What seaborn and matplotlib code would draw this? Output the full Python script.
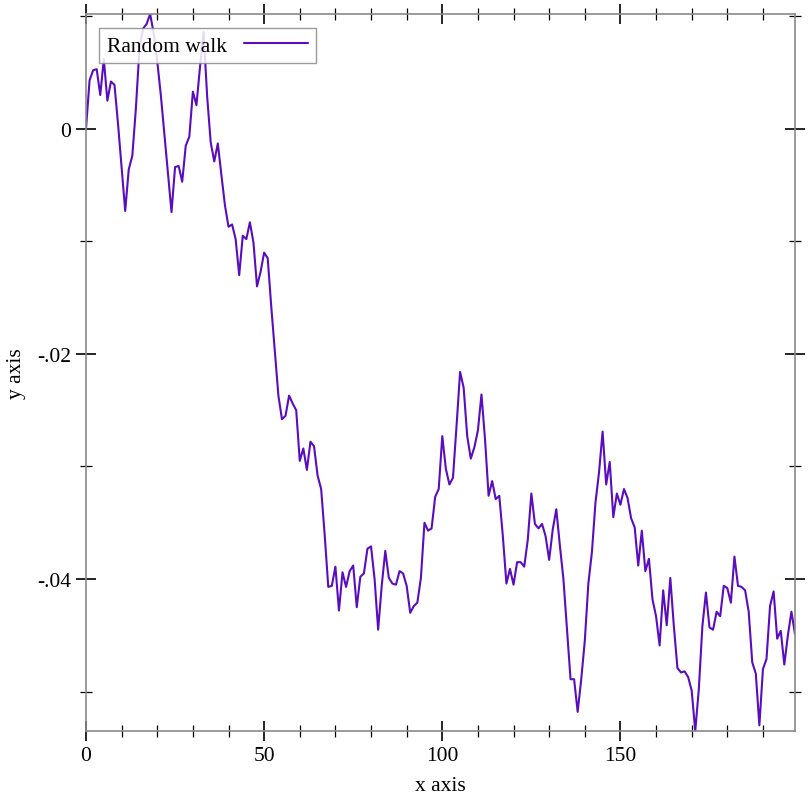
import numpy as np
import pandas as pd
import matplotlib
matplotlib.use("Agg")
import matplotlib.pyplot as plt
from matplotlib.ticker import MultipleLocator, FixedLocator
import seaborn as sns

# ---- data ----
steps = list(range(200))
walk = [
    0.0000, 0.0043, 0.0052, 0.0053, 0.0030, 0.0062, 0.0025, 0.0042, 0.0039, 0.0004,
    -0.0035, -0.0073, -0.0036, -0.0024, 0.0018, 0.0071, 0.0089, 0.0093, 0.0102, 0.0085,
    0.0060, 0.0030, -0.0005, -0.0040, -0.0074, -0.0034, -0.0033, -0.0047, -0.0015, -0.0007,
    0.0033, 0.0021, 0.0055, 0.0086, 0.0029, -0.0012, -0.0029, -0.0013, -0.0041, -0.0068,
    -0.0087, -0.0085, -0.0098, -0.0130, -0.0095, -0.0098, -0.0083, -0.0101, -0.0140, -0.0127,
    -0.0110, -0.0115, -0.0158, -0.0198, -0.0237, -0.0258, -0.0255, -0.0237, -0.0244, -0.0250,
    -0.0295, -0.0284, -0.0303, -0.0278, -0.0282, -0.0308, -0.0320, -0.0361, -0.0407, -0.0406,
    -0.0389, -0.0428, -0.0394, -0.0407, -0.0393, -0.0388, -0.0425, -0.0398, -0.0395, -0.0373,
    -0.0371, -0.0400, -0.0445, -0.0406, -0.0375, -0.0399, -0.0404, -0.0405, -0.0393, -0.0395,
    -0.0406, -0.0430, -0.0424, -0.0421, -0.0399, -0.0350, -0.0357, -0.0355, -0.0327, -0.0320,
    -0.0273, -0.0302, -0.0316, -0.0310, -0.0264, -0.0216, -0.0230, -0.0273, -0.0293, -0.0283,
    -0.0268, -0.0236, -0.0276, -0.0326, -0.0313, -0.0329, -0.0326, -0.0362, -0.0404, -0.0391,
    -0.0405, -0.0385, -0.0385, -0.0389, -0.0365, -0.0324, -0.0351, -0.0355, -0.0351, -0.0362,
    -0.0383, -0.0356, -0.0338, -0.0370, -0.0400, -0.0444, -0.0489, -0.0489, -0.0518, -0.0489,
    -0.0455, -0.0404, -0.0376, -0.0332, -0.0305, -0.0269, -0.0316, -0.0296, -0.0345, -0.0324,
    -0.0334, -0.0320, -0.0328, -0.0346, -0.0354, -0.0388, -0.0357, -0.0393, -0.0382, -0.0418,
    -0.0433, -0.0459, -0.0410, -0.0441, -0.0399, -0.0442, -0.0479, -0.0483, -0.0482, -0.0487,
    -0.0499, -0.0535, -0.0498, -0.0442, -0.0412, -0.0443, -0.0445, -0.0429, -0.0433, -0.0406,
    -0.0408, -0.0421, -0.0380, -0.0406, -0.0407, -0.0410, -0.0429, -0.0474, -0.0484, -0.0530,
    -0.0480, -0.0471, -0.0424, -0.0411, -0.0453, -0.0446, -0.0476, -0.0450, -0.0429, -0.0449,
]
series_name = "Random walk"
x_major = [0, 50, 100, 150]
y_major = [0.0, -0.02, -0.04]
y_major_labels = ["0", "-.02", "-.04"]
x_label = "x axis"
y_label = "y axis"

df = pd.DataFrame({"x": steps, "y": walk})

sns.set_theme(style="white")
plt.rcParams["font.family"] = ["Liberation Serif", "DejaVu Serif"]
plt.rcParams["text.color"] = "black"
FS = 15.5

fig = plt.figure(figsize=(8.12, 8.12), dpi=100)
ax = fig.add_axes([86 / 812, 80 / 812, 709 / 812, 717 / 812])

line_color = "#5a0cbf"
sns.lineplot(data=df, x="x", y="y", ax=ax, color=line_color, linewidth=1.5,
             label=series_name)

ax.set_xlim(min(steps), max(steps))
ax.set_ylim(min(walk), max(walk))

ax.xaxis.set_major_locator(FixedLocator(x_major))
ax.xaxis.set_minor_locator(MultipleLocator(10))
ax.yaxis.set_major_locator(FixedLocator(y_major))
ax.yaxis.set_minor_locator(FixedLocator([0.01, -0.01, -0.03, -0.05]))
ax.set_yticklabels(y_major_labels)
ax.set_xticklabels([str(v) for v in x_major])

ax.tick_params(which="both", direction="inout", top=True, right=True,
               bottom=True, left=True, colors="black", labelsize=FS, pad=3)
ax.tick_params(which="major", length=15, width=1.2)
ax.tick_params(which="minor", length=8, width=0.9)

for s in ax.spines.values():
    s.set_color("#8a8a8a")
    s.set_linewidth(1.2)
    s.set_visible(True)

ax.set_xlabel(x_label, fontsize=FS, color="black", labelpad=8)
ax.set_ylabel(y_label, fontsize=FS, color="black", labelpad=8)
ax.grid(False)

leg = ax.legend(loc="upper left", bbox_to_anchor=((99 - 86) / 709, 1 - (29 - 15) / 717),
                borderaxespad=0, fontsize=FS, handlelength=3.0, handletextpad=0.8,
                fancybox=False, frameon=True, markerfirst=False, borderpad=0.35,
                labelcolor="black")
frame = leg.get_frame()
frame.set_edgecolor("#8a8a8a")
frame.set_linewidth(1.0)
frame.set_facecolor("white")
frame.set_alpha(0.85)

fig.savefig("out.png", dpi=100, facecolor="white")
